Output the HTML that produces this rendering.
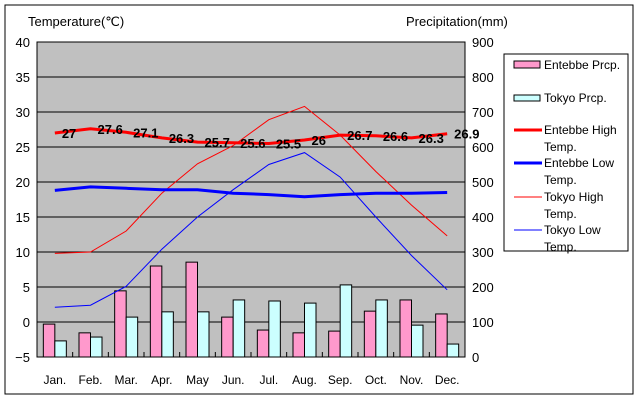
<!DOCTYPE html>
<html><head><meta charset="utf-8"><style>
body{margin:0;background:#fff;}
svg{display:block;font-family:"Liberation Sans",sans-serif;}
</style></head><body>
<svg width="640" height="400">
<rect x="5" y="5" width="628" height="389" fill="#fff" stroke="#000"/>
<rect x="37" y="42" width="428" height="315" fill="#c0c0c0" stroke="#000"/>
<g id="g"></g>
<text x="28" y="26" font-size="13">Temperature(℃)</text>
<text x="406" y="26" font-size="13">Precipitation(mm)</text>
<g>
<rect x="504" y="54" width="124" height="197" fill="#fff" stroke="#000"/>
<rect x="514" y="61" width="26" height="7" fill="#ff99cc" stroke="#000"/>
<text x="544" y="69" font-size="12">Entebbe Prcp.</text>
<rect x="514" y="95" width="26" height="6" fill="#ccffff" stroke="#000"/>
<text x="544" y="102" font-size="12">Tokyo Prcp.</text>
<line x1="514" y1="130" x2="542" y2="130" stroke="#f00" stroke-width="3"/>
<text x="544" y="134" font-size="12">Entebbe High</text><text x="544" y="151" font-size="12">Temp.</text>
<line x1="514" y1="163" x2="542" y2="163" stroke="#00f" stroke-width="3"/>
<text x="544" y="167" font-size="12">Entebbe Low</text><text x="544" y="184" font-size="12">Temp.</text>
<line x1="514" y1="197" x2="542" y2="197" stroke="#f00" stroke-width="1"/>
<text x="544" y="201" font-size="12">Tokyo High</text><text x="544" y="218" font-size="12">Temp.</text>
<line x1="514" y1="230" x2="542" y2="230" stroke="#00f" stroke-width="1"/>
<text x="544" y="234" font-size="12">Tokyo Low</text><text x="544" y="251" font-size="12">Temp.</text>
</g>
</svg>
<script>
const months=["Jan.","Feb.","Mar.","Apr.","May","Jun.","Jul.","Aug.","Sep.","Oct.","Nov.","Dec."];
const entebbePrcp=[94,69,189,260,271,114,77,69,74,131,163,123];
const tokyoPrcp=[46,57,114,129,129,163,160,154,206,163,91,37];
const entebbeHigh=[27,27.6,27.1,26.3,25.7,25.6,25.5,26,26.7,26.6,26.3,26.9];
const entebbeLow=[18.8,19.3,19.1,18.9,18.9,18.4,18.2,17.9,18.2,18.4,18.4,18.5];
const tokyoHigh=[9.8,10,13,18.4,22.6,25.2,28.9,30.8,26.7,21.5,16.7,12.3];
const tokyoLow=[2.1,2.4,5.1,10.4,15,18.9,22.5,24.2,20.7,15,9.5,4.6];
const tempTicks=[-5,0,5,10,15,20,25,30,35,40];
const prcpTicks=[0,100,200,300,400,500,600,700,800,900];
const NS="http://www.w3.org/2000/svg";
const g=document.getElementById('g');
const X0=37,W=428,Y0=357,H=315,step=W/12;
const yT=v=>Y0-(v+5)/45*H;
const yP=v=>Y0-v/900*H;
const xC=i=>X0+step*(i+0.5);
function mk(t,a,p){const e=document.createElementNS(NS,t);for(const k in a)e.setAttribute(k,a[k]);(p||g).appendChild(e);return e;}
tempTicks.forEach(v=>{
 if(v>-5&&v<40){const l=mk('line',{x1:X0,x2:X0+W,y1:yT(v),y2:yT(v),stroke:'#000'});
 
 }
 const t=mk('text',{x:30,y:yT(v)+5,'font-size':13,'text-anchor':'end'});t.textContent=v<0?'−'+(-v):v;
 
 
});
prcpTicks.forEach(v=>{
 const t=mk('text',{x:472,y:yP(v)+5,'font-size':13});t.textContent=v;
 
 
});
months.forEach((m,i)=>{
 if(i>0){const tk=mk('line',{x1:X0+step*i,x2:X0+step*i,y1:Y0,y2:Y0-5,stroke:'#000'});
 
 }
 const t=mk('text',{x:xC(i),y:384,'font-size':12,'text-anchor':'middle'});t.textContent=m;
 
 
 const bw=11.5;
 const b1=mk('rect',{x:xC(i)-bw,y:yP(entebbePrcp[i]),width:bw,height:Y0-yP(entebbePrcp[i]),fill:'#ff99cc',stroke:'#000'});
 
 
 const b2=mk('rect',{x:xC(i),y:yP(tokyoPrcp[i]),width:bw,height:Y0-yP(tokyoPrcp[i]),fill:'#ccffff',stroke:'#000'});
 
 
});
function line(arr,col,w,name){
 const p=mk('polyline',{points:arr.map((v,i)=>xC(i)+','+yT(v)).join(' '),fill:'none',stroke:col,'stroke-width':w});
 
 
}
line(tokyoHigh,'#f00',1,'line-tokyo-high');
line(tokyoLow,'#00f',1,'line-tokyo-low');
line(entebbeLow,'#00f',3,'line-entebbe-low');
line(entebbeHigh,'#f00',3,'line-entebbe-high');
entebbeHigh.forEach((v,i)=>{
 const t=mk('text',{x:xC(i)+7,y:yT(v)+5,'font-size':13,'font-weight':'bold'});t.textContent=v;
 
 
});
</script>
</body></html>
